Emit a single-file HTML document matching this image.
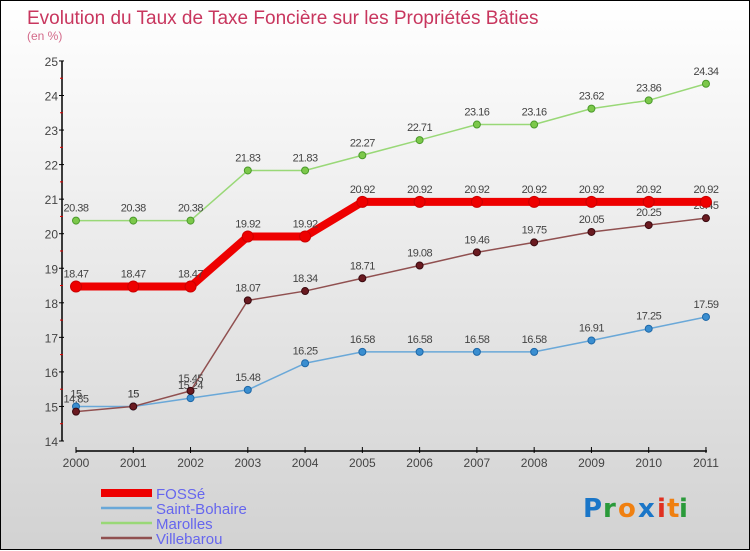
<!DOCTYPE html>
<html><head><meta charset="utf-8"><style>
html,body{margin:0;padding:0;}
body{width:750px;height:550px;overflow:hidden;font-family:"Liberation Sans",sans-serif;}
#wrap{position:relative;width:748px;height:548px;border:1px solid #000;background:linear-gradient(#ffffff,#d2d2d2);}
svg{position:absolute;left:0;top:0;}
</style></head><body>
<div id="wrap">
<svg id="chart" width="750" height="550">
<text x="26" y="23" font-size="19" fill="#c8365e">Evolution du Taux de Taxe Foncière sur les Propriétés Bâties</text>
<text x="26" y="39" font-size="12" fill="#d36a8a">(en %)</text>
<g id="axes"></g><g id="series"></g><g id="legend"></g>
<g font-size="26" font-weight="bold" font-family="'DejaVu Sans',sans-serif">
<text x="582" y="516" fill="#1a76c8">P</text><text x="602" y="516" fill="#2a9a3a">r</text><text x="617" y="516" fill="#f08010">o</text><text x="637" y="516" fill="#1a76c8">x</text><text x="656" y="516" fill="#e03020">i</text><text x="666" y="516" fill="#f08010">t</text><text x="678" y="516" fill="#2a9a3a">i</text>
</g>
</svg></div>
<script>
const years=[2000,2001,2002,2003,2004,2005,2006,2007,2008,2009,2010,2011];
const yTicks=[14,15,16,17,18,19,20,21,22,23,24,25];
const fosse=[18.47,18.47,18.47,19.92,19.92,20.92,20.92,20.92,20.92,20.92,20.92,20.92];
const saintBohaire=[15,15,15.24,15.48,16.25,16.58,16.58,16.58,16.58,16.91,17.25,17.59];
const marolles=[20.38,20.38,20.38,21.83,21.83,22.27,22.71,23.16,23.16,23.62,23.86,24.34];
const villebarou=[14.85,15,15.45,18.07,18.34,18.71,19.08,19.46,19.75,20.05,20.25,20.45];
const NS="http://www.w3.org/2000/svg";
const x=i=>75+i*57.27;
const y=v=>440-(v-14)*34.55;
function mk(tag,attrs,parent,txt){const e=document.createElementNS(NS,tag);for(const k in attrs)e.setAttribute(k,attrs[k]);if(txt!==undefined)e.textContent=txt;parent.appendChild(e);return e;}
const axes=document.getElementById('axes');
let l=mk('line',{x1:61,y1:y(25),x2:61,y2:y(14),stroke:'#000','stroke-width':1.5},axes);


yTicks.forEach(t=>{
 let tk=mk('line',{x1:58,x2:63,y1:y(t),y2:y(t),stroke:'#000'},axes);
 
 
 if(t<25){let m=mk('line',{x1:59,x2:62,y1:y(t+0.5),y2:y(t+0.5),stroke:'#e00000'},axes);
 
 }
 let tl=mk('text',{x:57,y:y(t)+5,'text-anchor':'end','font-size':12,fill:'#444'},axes,String(t));
 
 
});
let xa=mk('line',{x1:75,y1:450,x2:x(11)+1,y2:450,stroke:'#000','stroke-width':1.5},axes);


years.forEach((yr,i)=>{
 let tk=mk('line',{x1:x(i),x2:x(i),y1:446,y2:452,stroke:'#000'},axes);
 
 
 let tl=mk('text',{x:x(i),y:466,'text-anchor':'middle','font-size':12,fill:'#444'},axes,String(yr));
 
 
});
const ser=document.getElementById('series');
function draw(vals,name,color,w,r,dot,dotStroke){
 const g=mk('g',{},ser);
 
 
 let p=mk('polyline',{points:vals.map((v,i)=>x(i)+','+y(v)).join(' '),fill:'none',stroke:color,'stroke-width':w,'stroke-linejoin':'round'},g);
 
 
 vals.forEach((v,i)=>{
  let c=mk('circle',{cx:x(i),cy:y(v),r:r,fill:dot,stroke:dotStroke,'stroke-width':1},g);
  
  
  let t=mk('text',{x:x(i),y:y(v)-9,'text-anchor':'middle','font-size':11,fill:'#444','letter-spacing':'-0.5'},g,String(v));
  
  
 });
}
draw(marolles,'marolles','#99d877',1.5,3.5,'#7cc84a','#4a9a2a');
draw(saintBohaire,'saint-bohaire','#6aa8d8',1.5,3.5,'#3a8ed0','#1e68a8');
draw(villebarou,'villebarou','#905050',1.5,3.5,'#6a1a20','#3a0a10');
draw(fosse,'fosse','#ee0000',8,5.5,'#ee0000','#cc0000');
const lg=document.getElementById('legend');
const legNames=['FOSSé','Saint-Bohaire','Marolles','Villebarou'];
const legColors=['#ee0000','#6aa8d8','#99d877','#905050'];
const legW=[8,2.5,2.5,2.5];
legNames.forEach((n,i)=>{
 const yy=492+i*15;
 let g=mk('g',{},lg);
 
 
 mk('line',{x1:100,x2:151,y1:yy,y2:yy,stroke:legColors[i],'stroke-width':legW[i]},g);
 mk('text',{x:155,y:yy+6,'font-size':15,fill:'#6666ee'},g,n);
});
</script>
</body></html>
